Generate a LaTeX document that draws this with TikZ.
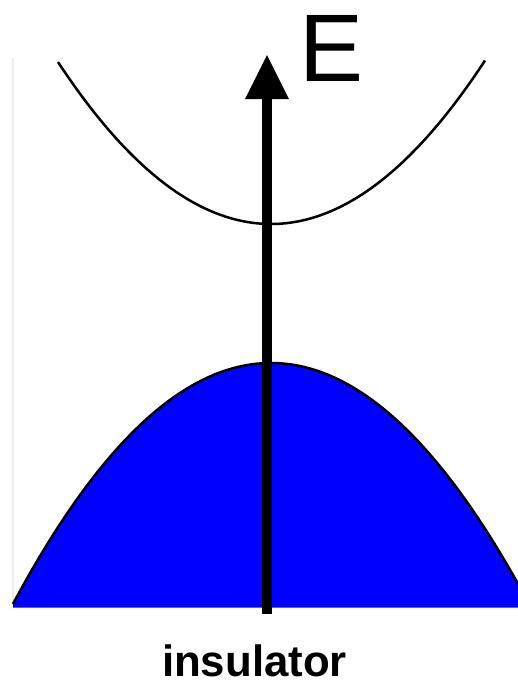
\documentclass[tikz,border=0pt]{standalone}
\usepackage{fontspec}
\setmainfont{Liberation Sans}
\usetikzlibrary{arrows.meta}
\begin{document}
\begin{tikzpicture}[x=1pt,y=-1pt,
  band/.style={line width=2.5pt, black},
  valfill/.style={fill={rgb,255:red,0;green,0;blue,255}},
  axisarrow/.style={line width=10pt, -{Triangle[width=44pt,length=44pt,line width=0pt]}},
  framel/.style={draw={rgb,255:red,236;green,236;blue,236}, line width=1.2pt}]
\useasboundingbox (0,0) rectangle (518,681);
% faint left frame line
\coordinate (ftop) at (13,58);
\coordinate (fbot) at (13,606);
\draw[framel] (ftop) -- (fbot);
% valence band (filled)
\begin{scope}
\clip (0,0) rectangle (518,681);
\fill[valfill] (13,607.5) -- plot[domain=13:530,samples=120] (\x,{363+((\x-271)*0.060166)^2}) -- (530,607.5) -- cycle;
\draw[band] plot[domain=13:530,samples=120] (\x,{363+((\x-271)*0.060166)^2});
\end{scope}
% conduction band
\draw[band] plot[domain=58:485,samples=120] (\x,{224-((\x-271)*0.059749)^2});
% energy axis
\coordinate (base) at (267,614);
\coordinate (tip) at (267,55);
\draw[axisarrow] (base) -- (tip);
\node[anchor=base west, inner sep=0pt, font=\fontsize{96}{96}\selectfont] (E) at (299,81) {E};
\node[anchor=base, inner sep=0pt, font=\fontsize{43.8}{44}\selectfont\bfseries] (lbl) at (254.5,676) {insulator};
\end{tikzpicture}
\end{document}
